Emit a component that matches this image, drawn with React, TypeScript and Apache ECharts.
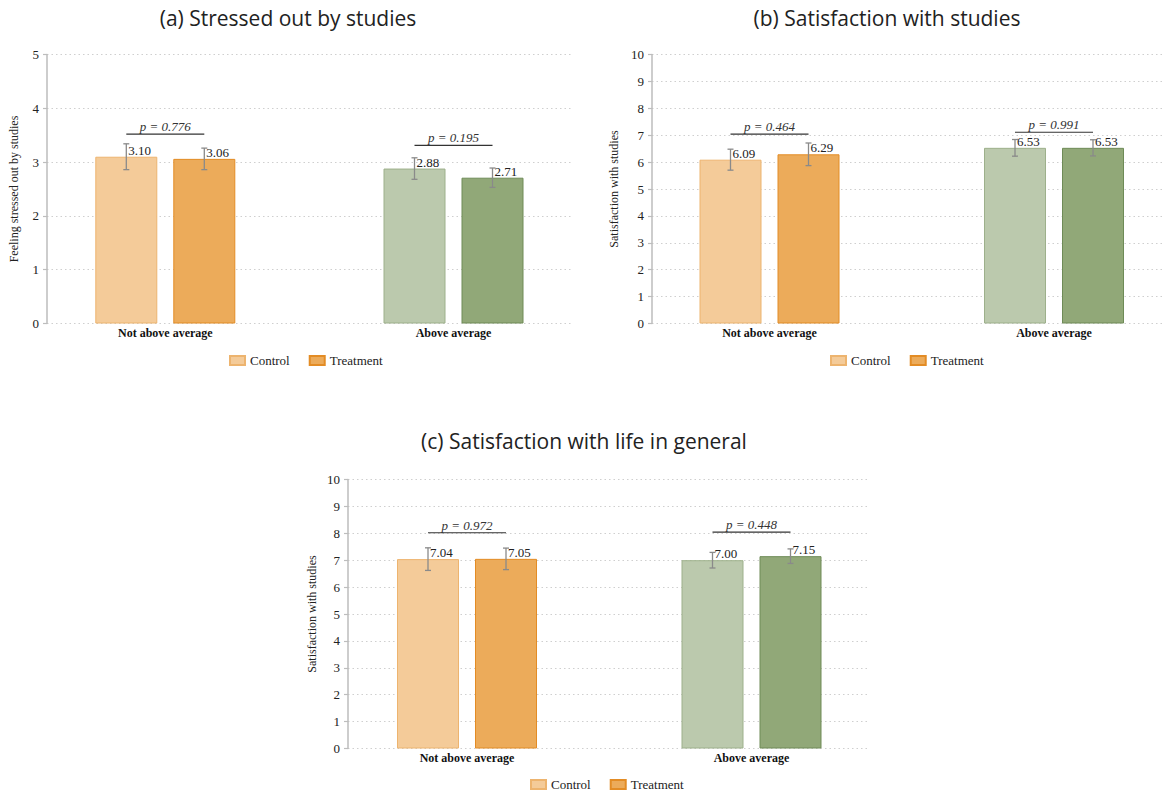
import React, { useEffect, useRef } from "react";
import * as echarts from "echarts";

// Groups on the x axis
const categories = ["Not above average", "Above average"];
const seriesNames = ["Control", "Treatment"];

// (a) Stressed out by studies
const stressControl = [3.1, 2.88];
const stressTreatment = [3.06, 2.71];
const stressControlErr = [0.24, 0.2];
const stressTreatmentErr = [0.2, 0.18];
const stressBracket = [3.52, 3.31];
const stressP = ["0.776", "0.195"];

// (b) Satisfaction with studies
const studyControl = [6.09, 6.53];
const studyTreatment = [6.29, 6.53];
const studyControlErr = [0.39, 0.31];
const studyTreatmentErr = [0.42, 0.3];
const studyBracket = [7.04, 7.11];
const studyP = ["0.464", "0.991"];

// (c) Satisfaction with life in general
const lifeControl = [7.04, 7.0];
const lifeTreatment = [7.05, 7.15];
const lifeControlErr = [0.42, 0.29];
const lifeTreatmentErr = [0.4, 0.27];
const lifeBracket = [8.02, 8.04];
const lifeP = ["0.972", "0.448"];

const SERIF = "Liberation Serif";
const SANS = "Open Sans";

// fill / border per group (orange = not above average, green = above average)
const CONTROL_COLORS = [
  { fill: "#F4CB99", border: "#EDB46F" },
  { fill: "#BBC9AD", border: "#9DB08B" },
];
const TREATMENT_COLORS = [
  { fill: "#ECAB5A", border: "#E38C25" },
  { fill: "#91A878", border: "#6E8B57" },
];

const BAR_WIDTH = 62;
const BAR_GAP = 16;
const BAR_OFFSET = (BAR_WIDTH + BAR_GAP) / 2;

type Panel = {
  title: string;
  titleX: number;
  titleY: number;
  yName: string;
  yNameGap: number;
  max: number;
  control: number[];
  treatment: number[];
  controlErr: number[];
  treatmentErr: number[];
  bracket: number[];
  pValues: string[];
  axisGrid: { left: number; top: number; width: number; height: number };
  groupCenters: [number, number];
  legendLeft: number;
  legendTop: number;
};

const panels: Panel[] = [
  {
    title: "(a) Stressed out by studies",
    titleX: 288,
    titleY: 18,
    yName: "Feeling stressed out by studies",
    yNameGap: 27,
    max: 5,
    control: stressControl,
    treatment: stressTreatment,
    controlErr: stressControlErr,
    treatmentErr: stressTreatmentErr,
    bracket: stressBracket,
    pValues: stressP,
    axisGrid: { left: 47, top: 54.5, width: 525, height: 269 },
    groupCenters: [165.3, 453.5],
    legendLeft: 229,
    legendTop: 354,
  },
  {
    title: "(b) Satisfaction with studies",
    titleX: 887,
    titleY: 18,
    yName: "Satisfaction with studies",
    yNameGap: 32,
    max: 10,
    control: studyControl,
    treatment: studyTreatment,
    controlErr: studyControlErr,
    treatmentErr: studyTreatmentErr,
    bracket: studyBracket,
    pValues: studyP,
    axisGrid: { left: 652, top: 54.5, width: 513, height: 269 },
    groupCenters: [769.5, 1054],
    legendLeft: 830,
    legendTop: 354,
  },
  {
    title: "(c) Satisfaction with life in general",
    titleX: 584,
    titleY: 441,
    yName: "Satisfaction with studies",
    yNameGap: 30,
    max: 10,
    control: lifeControl,
    treatment: lifeTreatment,
    controlErr: lifeControlErr,
    treatmentErr: lifeTreatmentErr,
    bracket: lifeBracket,
    pValues: lifeP,
    axisGrid: { left: 348, top: 479.5, width: 520, height: 269 },
    groupCenters: [467, 751.5],
    legendLeft: 530,
    legendTop: 778,
  },
];

function buildOption() {
  const grid: any[] = [];
  const xAxis: any[] = [];
  const yAxis: any[] = [];
  const series: any[] = [];
  const legend: any[] = [];
  const graphic: any[] = [];

  panels.forEach((p, i) => {
    const gA = 2 * i;
    const gB = 2 * i + 1;
    grid.push({
      left: p.axisGrid.left,
      top: p.axisGrid.top,
      width: p.axisGrid.width,
      height: p.axisGrid.height,
    });
    // bar grid spans from the first group centre to the second
    grid.push({
      left: p.groupCenters[0],
      top: p.axisGrid.top,
      width: p.groupCenters[1] - p.groupCenters[0],
      height: p.axisGrid.height,
    });

    // axis grid: value axis with ticks, labels and dotted grid lines
    xAxis.push({ type: "value", gridIndex: gA, min: 0, max: 1, show: false });
    yAxis.push({
      type: "value",
      gridIndex: gA,
      min: 0,
      max: p.max,
      interval: 1,
      name: p.yName,
      nameLocation: "middle",
      nameRotate: 90,
      nameGap: p.yNameGap,
      nameTextStyle: { fontFamily: SERIF, fontSize: 12, color: "#222" },
      axisLine: { show: true, lineStyle: { color: "#bdbdbd", width: 1.5 } },
      axisTick: { show: true, length: 4, lineStyle: { color: "#bdbdbd", width: 1.2 } },
      axisLabel: { fontFamily: SERIF, fontSize: 13, color: "#222", margin: 8 },
      splitLine: { show: true, lineStyle: { color: "#cfcfcf", type: [1.5, 3], width: 1 } },
    });

    // bar grid: category axis carrying the group labels
    xAxis.push({
      type: "category",
      gridIndex: gB,
      data: categories,
      boundaryGap: false,
      axisLine: { show: false },
      axisTick: { show: false },
      splitLine: { show: false },
      axisLabel: {
        fontFamily: SERIF,
        fontSize: 12,
        fontWeight: "bold",
        color: "#111",
        margin: 3,
      },
    });
    yAxis.push({ type: "value", gridIndex: gB, min: 0, max: p.max, interval: 1, show: false });

    const valueLabel = {
      show: true,
      position: [33, -13],
      fontFamily: SERIF,
      fontSize: 13,
      color: "#222",
      formatter: (q: any) => Number(q.value).toFixed(2),
    };

    series.push({
      type: "bar",
      name: seriesNames[0],
      xAxisIndex: gB,
      yAxisIndex: gB,
      clip: false,
      barWidth: BAR_WIDTH,
      barGap: `${(BAR_GAP / BAR_WIDTH) * 100}%`,
      itemStyle: {
        color: CONTROL_COLORS[0].fill,
        borderColor: CONTROL_COLORS[0].border,
        borderWidth: 1,
      },
      label: valueLabel,
      data: p.control.map((v, k) => ({
        value: v,
        itemStyle: {
          color: CONTROL_COLORS[k].fill,
          borderColor: CONTROL_COLORS[k].border,
          borderWidth: 1,
        },
      })),
    });
    series.push({
      type: "bar",
      name: seriesNames[1],
      xAxisIndex: gB,
      yAxisIndex: gB,
      clip: false,
      barWidth: BAR_WIDTH,
      barGap: `${(BAR_GAP / BAR_WIDTH) * 100}%`,
      itemStyle: {
        color: TREATMENT_COLORS[0].fill,
        borderColor: TREATMENT_COLORS[0].border,
        borderWidth: 1,
      },
      label: valueLabel,
      data: p.treatment.map((v, k) => ({
        value: v,
        itemStyle: {
          color: TREATMENT_COLORS[k].fill,
          borderColor: TREATMENT_COLORS[k].border,
          borderWidth: 1,
        },
      })),
    });

    // error bars: [category, mean, half-width, side(-1 control, +1 treatment)]
    const errData: number[][] = [];
    p.control.forEach((v, k) => errData.push([k, v, p.controlErr[k], -1]));
    p.treatment.forEach((v, k) => errData.push([k, v, p.treatmentErr[k], 1]));
    series.push({
      type: "custom",
      name: `err-${i}`,
      xAxisIndex: gB,
      yAxisIndex: gB,
      clip: false,
      z: 5,
      silent: true,
      data: errData,
      renderItem: (_params: any, api: any) => {
        const cat = api.value(0);
        const mean = api.value(1);
        const err = api.value(2);
        const side = api.value(3);
        const top = api.coord([cat, mean + err]);
        const bot = api.coord([cat, mean - err]);
        const x = top[0] + side * BAR_OFFSET;
        const st = { stroke: "#8a8a8a", lineWidth: 1.3 };
        return {
          type: "group",
          children: [
            { type: "line", shape: { x1: x, y1: top[1], x2: x, y2: bot[1] }, style: st },
            { type: "line", shape: { x1: x - 3, y1: top[1], x2: x + 3, y2: top[1] }, style: st },
            { type: "line", shape: { x1: x - 3, y1: bot[1], x2: x + 3, y2: bot[1] }, style: st },
          ],
        };
      },
    });

    // significance brackets with p-values
    series.push({
      type: "custom",
      name: `p-${i}`,
      xAxisIndex: gB,
      yAxisIndex: gB,
      clip: false,
      z: 5,
      silent: true,
      data: p.bracket.map((h, k) => [k, h]),
      renderItem: (params: any, api: any) => {
        const pt = api.coord([api.value(0), api.value(1)]);
        return {
          type: "group",
          children: [
            {
              type: "line",
              shape: { x1: pt[0] - BAR_OFFSET, y1: pt[1], x2: pt[0] + BAR_OFFSET, y2: pt[1] },
              style: { stroke: "#333", lineWidth: 1.2 },
            },
            {
              type: "text",
              x: pt[0],
              y: pt[1] - 1,
              style: {
                text: `p = ${p.pValues[params.dataIndex]}`,
                fontFamily: SERIF,
                fontStyle: "italic",
                fontSize: 13,
                fill: "#333",
                align: "center",
                verticalAlign: "bottom",
              },
            },
          ],
        };
      },
    });

    legend.push({
      data: seriesNames,
      left: p.legendLeft,
      top: p.legendTop,
      padding: 0,
      icon: "rect",
      itemWidth: 15,
      itemHeight: 9,
      itemGap: 19,
      selectedMode: false,
      textStyle: { fontFamily: SERIF, fontSize: 13, color: "#222" },
    });

    graphic.push({
      type: "text",
      x: p.titleX,
      y: p.titleY,
      style: {
        text: p.title,
        fontFamily: SANS,
        fontSize: 21,
        fill: "#222",
        align: "center",
        verticalAlign: "middle",
      },
    });
  });

  return {
    animation: false,
    backgroundColor: "#ffffff",
    textStyle: { fontFamily: SERIF },
    grid,
    xAxis,
    yAxis,
    series,
    legend,
    graphic,
  };
}

export default function App() {
  const ref = useRef<HTMLDivElement>(null);

  useEffect(() => {
    if (!ref.current) return;
    const chart = echarts.init(ref.current, undefined, { renderer: "svg" });
    chart.setOption(buildOption() as any);
    return () => chart.dispose();
  }, []);

  return (
    <div
      ref={ref}
      style={{
        position: "fixed",
        left: 0,
        top: 0,
        width: 1165,
        height: 796,
        background: "#fff",
      }}
    />
  );
}
